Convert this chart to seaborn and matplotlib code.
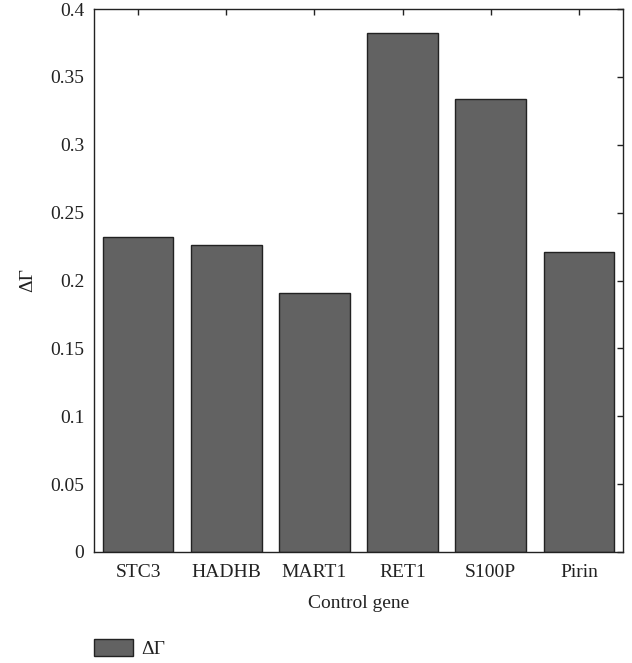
import matplotlib
matplotlib.use('Agg')
import matplotlib.pyplot as plt
import seaborn as sns
import pandas as pd

genes = ['STC3', 'HADHB', 'MART1', 'RET1', 'S100P', 'Pirin']
delta_gamma = [0.232, 0.226, 0.191, 0.382, 0.334, 0.221]
y_ticks = [0, 0.05, 0.1, 0.15, 0.2, 0.25, 0.3, 0.35, 0.4]
y_tick_labels = ['0', '0.05', '0.1', '0.15', '0.2', '0.25', '0.3', '0.35', '0.4']

sns.set_style('white')
plt.rcParams['font.family'] = ['Liberation Serif', 'DejaVu Serif']
plt.rcParams['font.size'] = 14

df = pd.DataFrame({'gene': genes, 'value': delta_gamma, 'series': 'ΔΓ'})

fig = plt.figure(figsize=(6.32, 6.63), dpi=100)
ax = fig.add_axes([94 / 632, 1 - 552 / 663, 529 / 632, 543 / 663])

sns.barplot(data=df, x='gene', y='value', hue='series', ax=ax,
            palette=['#626262'], edgecolor='#222222', linewidth=1.0,
            width=0.8, saturation=1)

ax.set_xlim(-0.5, 5.5)
ax.set_ylim(0, 0.4)
ax.set_yticks(y_ticks)
ax.set_yticklabels(y_tick_labels)
ax.set_xlabel('Control gene', fontsize=14, color='#222222', labelpad=10)
ax.set_ylabel('ΔΓ', fontsize=14, color='#222222', labelpad=10)
ax.tick_params(direction='in', top=True, right=True, length=4, width=1,
               colors='#222222', labelcolor='#222222', labelsize=14)
ax.tick_params(axis='x', pad=8.5)
ax.tick_params(axis='y', pad=7)
for s in ax.spines.values():
    s.set_visible(True)
    s.set_color('#222222')
    s.set_linewidth(1.0)

ax.legend(loc='center left', bbox_to_anchor=(94 / 632, 1 - 648.5 / 663),
          bbox_transform=fig.transFigure, frameon=False,
          handlelength=2.0, handleheight=1.0, borderpad=0, borderaxespad=0,
          handletextpad=0.45, fontsize=14, labelcolor='#222222')

fig.savefig('out.png', dpi=100)
